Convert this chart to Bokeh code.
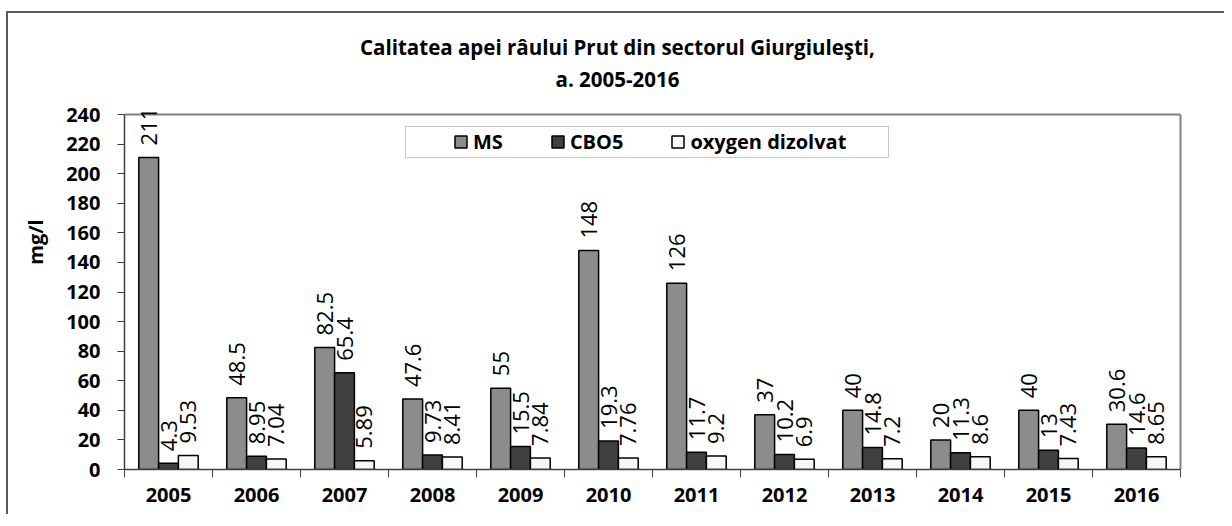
import numpy as np
from bokeh.plotting import figure
from bokeh.models import ColumnDataSource, Range1d, FixedTicker, Label, BoxAnnotation
from bokeh.transform import dodge
from bokeh.core.properties import value
from bokeh.embed import file_html
from bokeh.resources import INLINE

# ---- data ----
years = ["2005", "2006", "2007", "2008", "2009", "2010",
         "2011", "2012", "2013", "2014", "2015", "2016"]
ms = [211, 48.5, 82.5, 47.6, 55, 148, 126, 37, 40, 20, 40, 30.6]
cbo5 = [4.3, 8.95, 65.4, 9.73, 15.5, 19.3, 11.7, 10.2, 14.8, 11.3, 13, 14.6]
oxygen = [9.53, 7.04, 5.89, 8.41, 7.84, 7.76, 9.2, 6.9, 7.2, 8.6, 7.43, 8.65]
series_names = ["MS", "CBO5", "oxygen dizolvat"]
y_ticks = [0, 20, 40, 60, 80, 100, 120, 140, 160, 180, 200, 220, 240]
title_lines = ["Calitatea apei râului Prut din sectorul Giurgiuleşti,", "a. 2005-2016"]
y_label = "mg/l"

FONT = "Open Sans"
n = len(years)
y_max = y_ticks[-1]
centers = [i + 0.5 for i in range(n)]
boundaries = list(range(n + 1))

src = ColumnDataSource(dict(
    x=centers,
    ms=ms, cbo5=cbo5, ox=oxygen,
    ms_t=[f"{v:g}" for v in ms],
    cbo5_t=[f"{v:g}" for v in cbo5],
    ox_t=[f"{v:g}" for v in oxygen],
))

# 88 px per category, 355/240 px per unit; frame extended upward so the
# title and the tallest value label are drawn inside it
px_x = 88.0
px_y = 355.0 / y_max
x_end = n + 10 / px_x
y_end = y_max + 100 / px_y

p = figure(frame_width=1066, frame_height=455,
           x_range=Range1d(0, x_end), y_range=Range1d(0, y_end),
           output_backend="svg", toolbar_location=None,
           min_border_left=116, min_border_right=34,
           min_border_top=1, min_border_bottom=45)
p.styles = {"margin-left": "6px", "margin-top": "11px",
            "border-left": "2px solid #5a5a5a", "border-top": "2px solid #5a5a5a"}
p.outline_line_color = None
p.xgrid.visible = False
p.ygrid.visible = False

# plot-area border (top and right)
p.segment(x0=[0, n], y0=[y_max, 0], x1=[n, n], y1=[y_max, y_max],
          line_color="#808080", line_width=2)

bw = 0.225
series = [("ms", "#8c8c8c", -bw), ("cbo5", "#404040", 0.0), ("ox", "#f7f7f7", bw)]
for (key, color, dx), name in zip(series, series_names):
    p.vbar(x=dodge("x", dx), top=key, width=bw, source=src,
           fill_color=color, line_color="black", line_width=1.5,
           legend_label=name)
for key, color, dx in series:
    p.text(x=dodge("x", dx), y=key, text=key + "_t", source=src,
           angle=np.pi / 2, text_align="left", text_baseline="middle",
           y_offset=-12, text_font=value(FONT), text_font_size="22px",
           text_color="black")

# axes
p.xaxis.bounds = (0, n)
p.xaxis.ticker = FixedTicker(ticks=centers, minor_ticks=boundaries)
p.xaxis.major_label_overrides = {c: yv for c, yv in zip(centers, years)}
p.xaxis.major_tick_line_color = None
p.xaxis.major_tick_out = 8
p.xaxis.major_tick_in = 0
p.xaxis.minor_tick_out = 8
p.xaxis.minor_tick_in = 0
p.xaxis.minor_tick_line_color = "#404040"
p.xaxis.major_label_standoff = 10

p.yaxis.bounds = (0, y_max)
p.yaxis.ticker = FixedTicker(ticks=y_ticks)
p.yaxis.minor_tick_line_color = None
p.yaxis.major_tick_out = 7
p.yaxis.major_tick_in = 0
p.yaxis.major_tick_line_color = "#404040"
p.yaxis.major_label_standoff = 17
p.yaxis.axis_label = y_label
p.yaxis.axis_label_standoff = 14
p.yaxis.axis_label_text_font = FONT
p.yaxis.axis_label_text_font_size = "20px"
p.yaxis.axis_label_text_font_style = "bold"
p.yaxis.axis_label_text_color = "black"

for ax in (p.xaxis, p.yaxis):
    ax.axis_line_color = "#404040"
    ax.axis_line_width = 1.5
    ax.major_label_text_font = FONT
    ax.major_label_text_font_size = "20px"
    ax.major_label_text_font_style = "bold"
    ax.major_label_text_color = "black"

# legend
leg = p.legend[0]
leg.location = (329, 314)
leg.orientation = "horizontal"
leg.glyph_width = 15
leg.glyph_height = 15
leg.label_standoff = 5
leg.spacing = 47
leg.padding = 5
leg.margin = 0
leg.border_line_color = None
leg.background_fill_alpha = 0
leg.label_text_font = FONT
leg.label_text_font_size = "20px"
leg.label_text_font_style = "bold"
leg.label_text_color = "black"

p.add_layout(BoxAnnotation(left=3.193, right=8.682, bottom=210.9, top=231.9,
                           fill_color=None, line_color="#404040", line_width=1))

# title lines
for txt, yy in zip(title_lines, [285.3, 264.3]):
    p.add_layout(Label(x=5.602, y=yy, text=txt,
                       text_align="center", text_baseline="middle",
                       text_font=FONT, text_font_size="20.5px", text_font_style="bold",
                       text_color="black"))

open("out.html", "w").write(file_html(p, INLINE))
